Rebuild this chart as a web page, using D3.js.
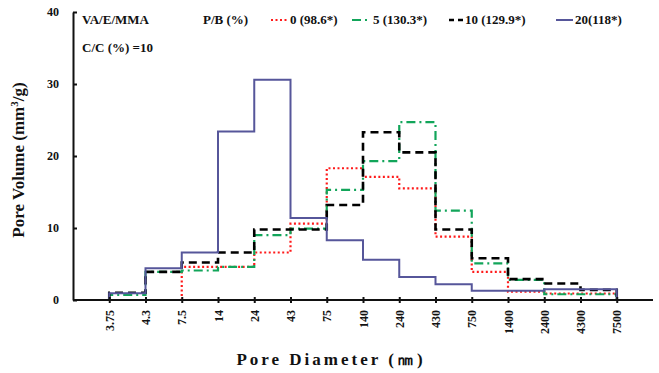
<!DOCTYPE html>
<html>
  <head>
    <meta charset="utf-8">
    <script src="https://cdnjs.cloudflare.com/ajax/libs/d3/7.8.5/d3.min.js"></script>
    <style>
      body { margin: 0; background: #fff; }
      text { font-family: "Liberation Serif", "Times New Roman", serif; font-weight: bold; fill: #111; }
      .axis path, .axis line { stroke: #111; stroke-width: 2; }
    </style>
  </head>
  <body>
    <svg width="659" height="373"></svg>
    <script>
      // pore diameter boundaries (nm)
      var diameters = ["3.75", "4.3", "7.5", "14", "24", "43", "75", "140", "240", "430", "750", "1400", "2400", "4300", "7500"];
      var yTicks = [0, 10, 20, 30, 40];

      // pore volume per bin, one value per interval between diameters
      var pb0  = [0, 0, 4.6, 4.6, 6.6, 10.6, 18.3, 17.1, 15.5, 8.8, 3.9, 1.15, 0.9, 0.9];
      var pb5  = [0.7, 3.9, 4.1, 4.6, 9.0, 9.9, 15.3, 19.3, 24.7, 12.4, 5.1, 2.8, 0.8, 0.8];
      var pb10 = [1.0, 3.9, 5.2, 6.6, 9.8, 9.8, 13.2, 23.3, 20.5, 9.8, 5.8, 2.9, 2.3, 1.4];
      var pb20 = [0.95, 4.4, 6.6, 23.4, 30.6, 11.4, 8.3, 5.6, 3.2, 2.2, 1.3, 1.3, 1.5, 1.5];

      var seriesNames = ["0 (98.6*)", "5 (130.3*)", "10 (129.9*)", "20(118*)"];

      var svg = d3.select("svg");

      var x = d3.scalePoint().domain(diameters).range([73, 653]).padding(1);
      var y = d3.scaleLinear().domain([0, 40]).range([300, 12]);

      var series = [
        { name: seriesNames[0], values: pb0, color: "#ff1a1a", width: 2.2, dash: "2,2.5" },
        { name: seriesNames[1], values: pb5, color: "#12a55a", width: 2.2, dash: "9,4,2,4" },
        { name: seriesNames[2], values: pb10, color: "#000", width: 2.6, dash: "8,5" },
        { name: seriesNames[3], values: pb20, color: "#56569a", width: 2, dash: null }
      ];

      // step outline: rise at first boundary, flat across each bin, drop at last
      function stepPoints(vals) {
        var pts = [[x(diameters[0]), y(0)]];
        vals.forEach(function (v, i) {
          pts.push([x(diameters[i]), y(v)]);
          pts.push([x(diameters[i + 1]), y(v)]);
        });
        pts.push([x(diameters[diameters.length - 1]), y(0)]);
        return pts;
      }

      var line = d3.line();

      svg.selectAll("path.series")
        .data(series)
        .enter()
        .append("path")
        .attr("class", "series")
        .attr("d", function (d) { return line(stepPoints(d.values)); })
        .attr("fill", "none")
        .attr("stroke", function (d) { return d.color; })
        .attr("stroke-width", function (d) { return d.width; })
        .attr("stroke-dasharray", function (d) { return d.dash; });

      // axes
      var yAxis = svg.append("g").attr("class", "axis")
        .attr("transform", "translate(73,0)")
        .call(d3.axisLeft(y).tickValues(yTicks).tickSizeInner(-4).tickSizeOuter(0).tickPadding(14));
      yAxis.selectAll("text").style("font-size", "12px");

      var xAxis = svg.append("g").attr("class", "axis")
        .attr("transform", "translate(0,300)")
        .call(d3.axisBottom(x).tickSizeInner(3).tickSizeOuter(0).tickPadding(0));
      xAxis.select(".domain").attr("d", "M73,0H653");
      xAxis.selectAll(".tick line").attr("y1", -3);
      xAxis.selectAll("text")
        .style("font-size", "12px")
        .attr("transform", "rotate(-90)")
        .attr("text-anchor", "end")
        .attr("x", -10)
        .attr("y", 0)
        .attr("dy", "0.35em");

      // axis titles
      svg.append("text")
        .attr("x", 331).attr("y", 365)
        .attr("text-anchor", "middle")
        .style("font-size", "17px")
        .style("letter-spacing", "3px")
        .text("Pore Diameter (㎚)");

      svg.append("text")
        .attr("transform", "translate(24,160) rotate(-90)")
        .attr("text-anchor", "middle")
        .style("font-size", "17px")
        .html("Pore Volume (mm<tspan dy='-6' font-size='11px'>3</tspan><tspan dy='6'>/g)</tspan>");

      // annotations
      svg.append("text").attr("x", 82).attr("y", 24).style("font-size", "13px").text("VA/E/MMA");
      svg.append("text").attr("x", 82).attr("y", 52).style("font-size", "13px").text("C/C (%) =10");
      svg.append("text").attr("x", 203).attr("y", 24).style("font-size", "13px").text("P/B (%)");

      // legend
      var legendX = [[271, 287, 290], [352, 368, 373], [449, 463, 465], [556, 573, 575]];
      var legend = svg.selectAll("g.legend")
        .data(series)
        .enter()
        .append("g")
        .attr("class", "legend");
      legend.append("line")
        .attr("x1", function (d, i) { return legendX[i][0]; })
        .attr("x2", function (d, i) { return legendX[i][1]; })
        .attr("y1", 20).attr("y2", 20)
        .attr("stroke", function (d) { return d.color; })
        .attr("stroke-width", function (d) { return d.width; })
        .attr("stroke-dasharray", function (d, i) { return i == 2 ? "5,4" : d.dash; });
      legend.append("text")
        .attr("x", function (d, i) { return legendX[i][2]; })
        .attr("y", 24)
        .style("font-size", "13px")
        .text(function (d) { return d.name; });
    </script>
  </body>
</html>
